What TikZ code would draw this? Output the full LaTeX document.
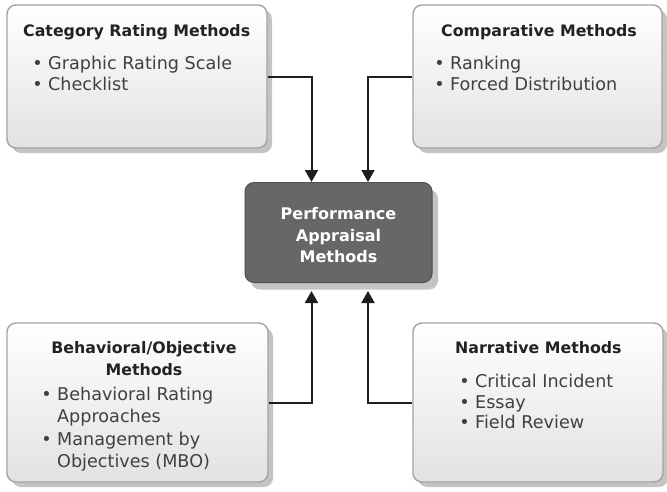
\documentclass[tikz,border=0pt]{standalone}
\usepackage{fontspec}
\setmainfont{DejaVu Sans}
\usetikzlibrary{arrows.meta,shadows}
\definecolor{cardedge}{HTML}{A3A3A3}
\definecolor{cardlow}{HTML}{E2E2E2}
\definecolor{cardshade}{HTML}{C4C4C4}
\definecolor{hubfill}{HTML}{676767}
\definecolor{hubedge}{HTML}{505050}
\definecolor{titleink}{HTML}{222222}
\definecolor{itemink}{HTML}{404040}
\definecolor{linkink}{HTML}{1E1E1E}
\tikzset{
  card/.style={draw=cardedge, line width=1.4pt, rounded corners=9pt,
    top color=white, bottom color=cardlow, inner sep=0pt,
    drop shadow={shadow xshift=5pt, shadow yshift=-5pt, fill=cardshade, opacity=1}},
  hub/.style={draw=hubedge, line width=1pt, rounded corners=9pt, fill=hubfill, inner sep=0pt,
    drop shadow={shadow xshift=6pt, shadow yshift=-7pt, fill=cardshade, opacity=1}},
  cardtitle/.style={font=\bfseries\fontsize{15.8}{19}\selectfont, text=titleink,
    inner sep=0pt, anchor=base west},
  carditem/.style={font=\fontsize{17.6}{21}\selectfont, text=itemink,
    inner sep=0pt, anchor=base west},
  hubtext/.style={font=\bfseries\fontsize{16}{21.5}\selectfont, text=white,
    align=center, inner sep=0pt},
  link/.style={draw=linkink, line width=2pt, -{Triangle[length=12pt,width=13pt]}}
}
\newcommand{\bul}{\llap{•\hspace{5.5pt}}}
\begin{document}
\begin{tikzpicture}[x=1pt,y=-1pt]
  \useasboundingbox (0,0) rectangle (667,491);

  % the five boxes
  \node[card, minimum width=260pt, minimum height=143pt] (cat)  at (137,76.5) {};
  \node[card, minimum width=249pt, minimum height=143pt] (comp) at (537.5,76.5) {};
  \node[card, minimum width=261pt, minimum height=159pt] (beh)  at (137.5,402.5) {};
  \node[card, minimum width=250pt, minimum height=159pt] (narr) at (538,402.5) {};
  \node[hub,  minimum width=187pt, minimum height=100pt] (perf) at (338.5,232.5) {};
  \node[hubtext] (perflabel) at (338.5,235.5) {Performance\\Appraisal\\Methods};

  % category rating
  \node[cardtitle] (catT) at (23,36) {Category Rating Methods};
  \node[carditem] (catA) at (48,69) {\bul Graphic Rating Scale};
  \node[carditem] (catB) at (48,90) {\bul Checklist};

  % comparative
  \node[cardtitle] (compT) at (441,36) {Comparative Methods};
  \node[carditem] (compA) at (450,69) {\bul Ranking};
  \node[carditem] (compB) at (450,90) {\bul Forced Distribution};

  % behavioral / objective
  \node[cardtitle, anchor=base] (behT1) at (144,353) {Behavioral/Objective};
  \node[cardtitle, anchor=base] (behT2) at (144,375) {Methods};
  \node[carditem] (behA1) at (57,400) {\bul Behavioral Rating};
  \node[carditem] (behA2) at (57,422) {Approaches};
  \node[carditem] (behB1) at (57,445) {\bul Management by};
  \node[carditem] (behB2) at (57,467) {Objectives (MBO)};

  % narrative
  \node[cardtitle] (narrT) at (455,353) {Narrative Methods};
  \node[carditem] (narrA) at (475,387) {\bul Critical Incident};
  \node[carditem] (narrB) at (475,408) {\bul Essay};
  \node[carditem] (narrC) at (475,428) {\bul Field Review};

  % connectors into the hub (the lower ones stop at the hub's shadow)
  \draw[link] (cat.east)  -| ([xshift=-27pt]perf.north);
  \draw[link] (comp.west) -| ([xshift=29.5pt]perf.north);
  \draw[link] (beh.east)  -| ([xshift=-27pt,yshift=-8pt]perf.south);
  \draw[link] (narr.west) -| ([xshift=29.5pt,yshift=-8pt]perf.south);
\end{tikzpicture}
\end{document}
